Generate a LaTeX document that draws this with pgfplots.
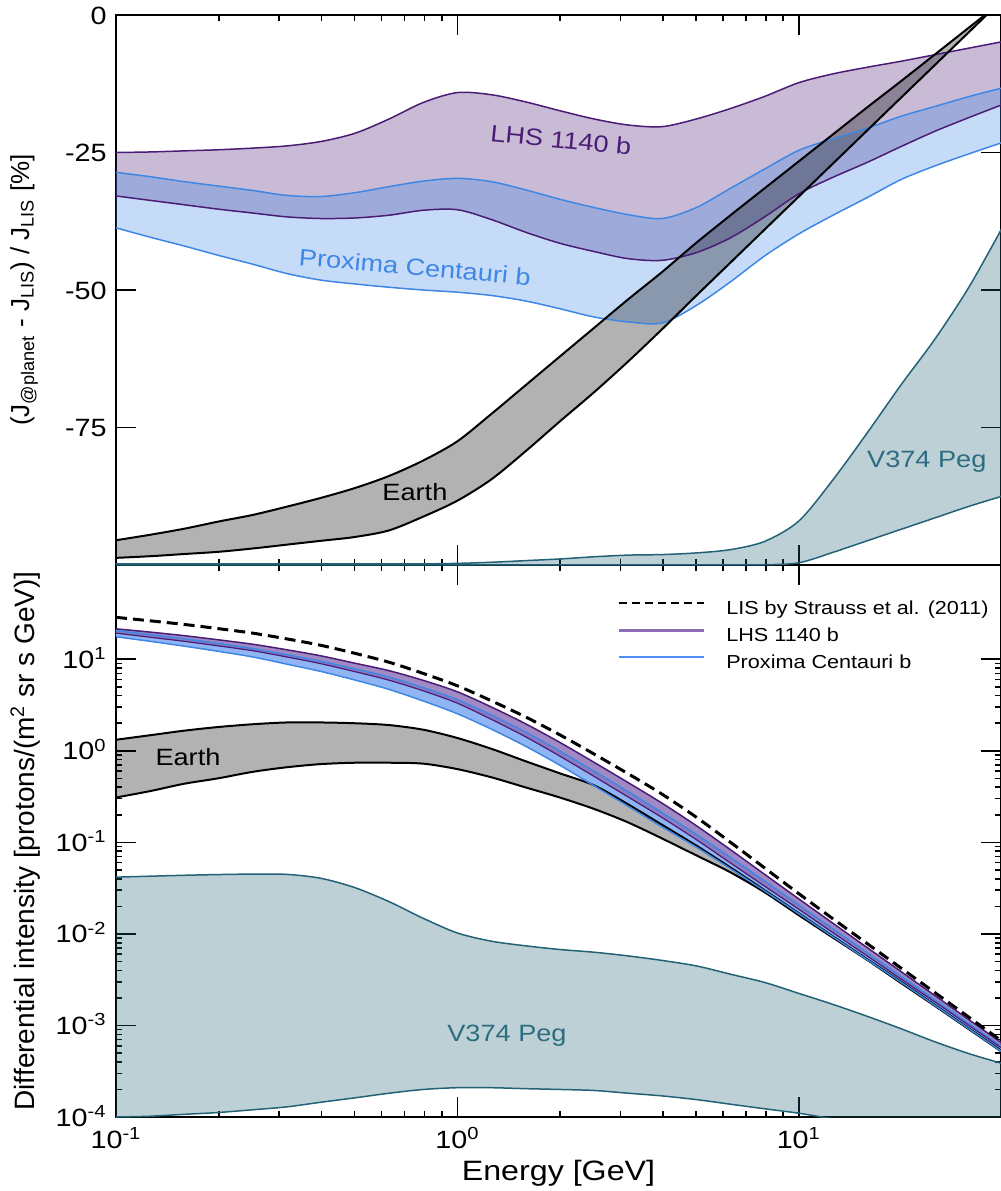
\documentclass[border=0pt]{standalone}
\usepackage{pgfplots}
\pgfplotsset{compat=1.18}
\usepackage{pgfplotstable}
\usepgfplotslibrary{fillbetween}
\usepackage{fontspec}
\setmainfont{Liberation Sans}[FakeStretch=1.15]
\newfontfamily\ylabfont{Liberation Sans}

\definecolor{lhs}{HTML}{4B1C76}
\definecolor{prox}{HTML}{3E87E4}
\definecolor{vpeg}{HTML}{236276}
\definecolor{vtext}{HTML}{2D6D80}
\definecolor{lhsband}{HTML}{8A6DB5}
\definecolor{proxband}{HTML}{8FB5F5}
\definecolor{lhsleg}{HTML}{8A6DB5}
\definecolor{proxleg}{HTML}{4E8EF5}

% relative deviation from the LIS [%]
\pgfplotstableread{
E      LHSu   LHSl   PCu    PCl    EAu    EAl    Vu     Vl
0.1    -25.0  -32.9  -28.6  -38.7  -95.5  -98.7  -99.8  -99.99
0.1259 -24.9  -33.7  -29.4  -40.4  -94.5  -98.4  -99.8  -99.99
0.1585 -24.7  -34.5  -30.3  -42.0  -93.4  -98.0  -99.8  -99.99
0.1995 -24.5  -35.3  -31.1  -43.7  -92.1  -97.6  -99.8  -99.99
0.2512 -24.2  -36.0  -31.9  -45.3  -90.9  -97.0  -99.8  -99.99
0.3162 -23.8  -36.7  -32.8  -47.0  -89.4  -96.3  -99.8  -99.99
0.3981 -23.0  -37.0  -33.0  -48.2  -87.8  -95.6  -99.8  -99.99
0.5012 -21.5  -36.9  -32.3  -48.9  -86.0  -94.9  -99.8  -99.99
0.6310 -18.9  -36.4  -31.2  -49.5  -83.8  -93.7  -99.8  -99.99
0.7943 -15.9  -35.5  -30.2  -50.0  -81.0  -91.2  -99.8  -99.99
1.0    -14.1  -35.4  -29.7  -50.4  -77.5  -88.3  -99.7  -99.99
1.259  -14.5  -37.2  -30.3  -51.0  -72.5  -84.4  -99.5  -99.99
1.585  -15.8  -39.5  -31.8  -52.0  -67.3  -79.3  -99.2  -99.99
1.995  -17.4  -41.5  -33.5  -53.4  -62.1  -73.9  -98.9  -99.99
2.512  -18.9  -43.0  -35.0  -54.9  -56.9  -68.6  -98.5  -99.99
3.162  -20.0  -44.3  -36.3  -55.8  -51.7  -63.0  -98.2  -99.99
3.981  -20.3  -44.6  -37.0  -56.0  -46.7  -57.1  -98.1  -99.99
5.012  -18.9  -43.2  -35.0  -52.8  -41.4  -51.0  -97.8  -99.99
6.310  -17.0  -40.5  -31.5  -48.5  -36.4  -45.0  -97.2  -99.99
7.943  -14.8  -36.7  -28.0  -43.8  -31.5  -39.0  -95.7  -99.95
10     -12.3  -32.5  -24.6  -39.8  -26.6  -33.0  -92.0  -99.6
12.59  -10.7  -29.5  -22.5  -36.4  -21.7  -27.0  -84.5  -97.7
15.85  -9.5   -26.8  -20.6  -33.2  -16.8  -21.0  -76.0  -95.6
19.95  -8.4   -23.9  -18.4  -29.9  -12.0  -15.0  -67.2  -93.5
25.12  -7.2   -21.1  -16.6  -27.4  -7.1   -9.0   -58.8  -91.4
31.62  -6.0   -18.6  -14.8  -25.2  -2.2   -3.0   -49.3  -89.3
39.81  -4.8   -16.2  -13.2  -23.1  2.7    3.0    -38.2  -87.4
}\reltab

% differential intensity [protons/(m^2 sr s GeV)]
\pgfplotstableread{
E      LIS      LHSu     LHSl     PCu      PCl      EAu      EAl      Vu       Vl
0.1    28.7     21.5     19.3     20.5     17.6     1.32     0.309    0.0417   1.00e-4
0.1259 26.3     19.8     17.4     18.6     15.7     1.48     0.363    0.0427   1.02e-4
0.1585 24.0     18.1     15.7     16.7     13.9     1.66     0.437    0.0437   1.07e-4
0.1995 21.6     16.3     14.0     14.9     12.2     1.82     0.501    0.0445   1.12e-4
0.2512 19.3     14.6     12.4     13.1     10.6     1.95     0.589    0.0450   1.20e-4
0.3162 16.7     12.7     10.6     11.2     8.85     2.04     0.661    0.0447   1.29e-4
0.3981 14.2     10.9     8.95     9.51     7.36     2.04     0.716    0.0405   1.45e-4
0.5012 11.6     9.05     7.32     7.85     5.93     2.00     0.741    0.0320   1.62e-4
0.6310 9.27     7.50     5.90     6.38     4.68     1.91     0.741    0.0225   1.82e-4
0.7943 7.00     5.88     4.52     4.89     3.50     1.70     0.724    0.0148   2.00e-4
1.0    5.13     4.41     3.31     3.61     2.54     1.38     0.631    0.01023  2.09e-4
1.259  3.51     3.00     2.20     2.45     1.72     1.05     0.513    0.00832  2.09e-4
1.585  2.34     1.97     1.42     1.60     1.12     0.769    0.398    0.00741  2.04e-4
1.995  1.496    1.236    0.875    0.995    0.697    0.568    0.309    0.00676  2.00e-4
2.512  0.923    0.749    0.526    0.600    0.416    0.420    0.232    0.00631  1.95e-4
3.162  0.562    0.450    0.313    0.358    0.248    0.260    0.165    0.00575  1.82e-4
3.981  0.335    0.267    0.186    0.211    0.147    0.155    0.110    0.00513  1.70e-4
5.012  0.188    0.152    0.107    0.122    0.0887   0.092    0.0720   0.00447  1.55e-4
6.310  0.100    0.0830   0.0595   0.0685   0.0515   0.053    0.0470   0.00363  1.38e-4
7.943  0.0525   0.0447   0.0332   0.0378   0.0295   0.0300   0.0285   0.00295  1.23e-4
10     0.0275   0.0241   0.0186   0.0207   0.0166   0.0168   0.0160   0.00224  1.10e-4
12.59  0.01462  0.01306  0.01031  0.01133  0.00930  0.0094   0.0091   0.00170  9.5e-5
15.85  0.00785  0.00710  0.00575  0.00623  0.00524  0.0053   0.0052   0.00126  7.9e-5
19.95  0.00422  0.00387  0.00321  0.00344  0.00296  0.0030   0.0029   0.000920 6.6e-5
25.12  0.002265 0.00210  0.00179  0.00189  0.00164  0.00166  0.00162  0.000660 5.5e-5
31.62  0.001216 0.001143 0.000990 0.001036 0.000910 0.00092  0.00090  0.000490 4.6e-5
39.81  0.000653 0.000622 0.000547 0.000567 0.000502 0.00051  0.00050  0.000380 3.8e-5
}\fluxtab

\begin{document}
\begin{tikzpicture}

% upper panel: relative difference to the LIS
\begin{axis}[at={(0,0)}, anchor=north west,
  scale only axis, width=442.5pt, height=275pt,
  xmode=log, xmin=0.1, xmax=39.1,
  ymin=-100, ymax=0,
  xtick={0.1,1,10}, xticklabels={,,},
  ytick={-75,-50,-25,0}, yticklabels={-75,-50,-25,0},
  major tick length=10pt, tick align=inside,
  axis line style={line width=0.8pt},
  every tick/.style={black, line width=0.8pt},
  tick label style={font=\fontsize{12.5}{14}\selectfont},
  yticklabel style={anchor=base east, inner sep=0pt, xshift=-4.5pt, yshift=-4.5pt},
  ylabel style={font=\ylabfont\fontsize{13}{15}\selectfont, inner sep=0pt,
    at={(axis description cs:-0.1198,0.5)}, anchor=north},
  ylabel={(J\textsubscript{@planet} - J\textsubscript{LIS}) / J\textsubscript{LIS} [\%]}]

  \addplot[lhs, line width=0.75pt, smooth, name path=lu] table[x=E, y=LHSu] {\reltab};
  \addplot[lhs, line width=0.75pt, smooth, name path=ll] table[x=E, y=LHSl] {\reltab};
  \addplot[fill=lhs, fill opacity=0.3, draw=none] fill between[of=lu and ll];

  \addplot[prox, line width=0.75pt, smooth, name path=pu] table[x=E, y=PCu] {\reltab};
  \addplot[prox, line width=0.75pt, smooth, name path=pl] table[x=E, y=PCl] {\reltab};
  \addplot[fill=prox, fill opacity=0.3, draw=none] fill between[of=pu and pl];

  \addplot[vpeg, line width=0.75pt, smooth, name path=vu] table[x=E, y=Vu] {\reltab};
  \addplot[vpeg, line width=0.75pt, smooth, name path=vl] table[x=E, y=Vl] {\reltab};
  \addplot[fill=vpeg, fill opacity=0.3, draw=none] fill between[of=vu and vl];

  \addplot[black, line width=1pt, smooth, name path=eu] table[x=E, y=EAu] {\reltab};
  \addplot[black, line width=1pt, smooth, name path=el] table[x=E, y=EAl] {\reltab};
  \addplot[fill=black, fill opacity=0.3, draw=none] fill between[of=eu and el];

  \node[text=lhs, rotate=-5.5, font=\fontsize{11.8}{13}\selectfont] at (axis cs:2.01,-22.7) {LHS 1140 b};
  \node[text=prox, rotate=-5, font=\fontsize{11.8}{13}\selectfont] at (axis cs:0.751,-45.8) {Proxima Centauri b};
  \node[text=black, font=\fontsize{11.8}{13}\selectfont] at (axis cs:0.751,-86.7) {Earth};
  \node[text=vtext, font=\fontsize{11.8}{13}\selectfont] at (axis cs:23.7,-81.3) {V374 Peg};
\end{axis}

% lower panel: differential intensity
\begin{axis}[at={(0,-275pt)}, anchor=north west,
  scale only axis, width=442.5pt, height=276pt,
  xmode=log, xmin=0.1, xmax=39.1,
  ymode=log, ymin=1e-4, ymax=107,
  xtick={0.1,1,10},
  xticklabels={10\textsuperscript{-1},10\textsuperscript{0},10\textsuperscript{1}},
  ytick={1e-4,1e-3,1e-2,1e-1,1,10},
  yticklabels={10\textsuperscript{-4},10\textsuperscript{-3},10\textsuperscript{-2},10\textsuperscript{-1},10\textsuperscript{0},10\textsuperscript{1}},
  minor tick num=0,
  major tick length=10pt, tick align=inside,
  axis line style={line width=0.8pt},
  every tick/.style={black, line width=0.8pt},
  tick label style={font=\fontsize{12.5}{14}\selectfont},
  yticklabel style={anchor=base east, inner sep=0pt, xshift=-4.5pt, yshift=-4.5pt},
  xticklabel style={anchor=base, inner sep=0pt, yshift=-15.5pt},
  xlabel={Energy [GeV]},
  xlabel style={font=\fontsize{14}{16}\selectfont, inner sep=0pt,
    at={(axis description cs:0.5,0)}, anchor=base, yshift=-31.5pt},
  ylabel style={font=\ylabfont\fontsize{14}{16}\selectfont, inner sep=0pt,
    at={(axis description cs:-0.1198,0.5)}, anchor=north},
  ylabel={Differential intensity [protons/(m\textsuperscript{2} sr s GeV)]},
  legend style={at={(axis description cs:0.566,0.945)}, anchor=north west,
    draw=none, fill=none, inner sep=0pt, row sep=0pt, column sep=10.5pt,
    font=\fontsize{9.4}{11}\selectfont,
    nodes={inner xsep=0pt, inner ysep=2.35pt, text height=6.8pt, text depth=2pt}},
  legend cell align=left,
  legend image code/.code={\draw[#1] (0pt,3pt) -- (42.5pt,3pt);}]

  % V374 Peg
  \addplot[vpeg, line width=0.75pt, smooth, name path=bvu, forget plot] table[x=E, y=Vu] {\fluxtab};
  \addplot[vpeg, line width=0.75pt, smooth, name path=bvl, forget plot] table[x=E, y=Vl] {\fluxtab};
  \addplot[fill=vpeg, fill opacity=0.3, draw=none, forget plot] fill between[of=bvu and bvl];

  % Earth
  \addplot[black, line width=1pt, smooth, name path=beu, forget plot] table[x=E, y=EAu] {\fluxtab};
  \addplot[black, line width=1pt, smooth, name path=bel, forget plot] table[x=E, y=EAl] {\fluxtab};
  \addplot[fill=black, fill opacity=0.3, draw=none, forget plot] fill between[of=beu and bel];

  % Proxima Centauri b
  \addplot[draw=none, smooth, name path=bpu, forget plot] table[x=E, y=PCu] {\fluxtab};
  \addplot[draw=none, smooth, name path=bpl, forget plot] table[x=E, y=PCl] {\fluxtab};
  \addplot[fill=proxband, draw=none, forget plot] fill between[of=bpu and bpl];
  \addplot[prox, line width=0.75pt, smooth, forget plot] table[x=E, y=PCu] {\fluxtab};
  \addplot[prox, line width=0.75pt, smooth, forget plot] table[x=E, y=PCl] {\fluxtab};

  % LHS 1140 b
  \addplot[draw=none, smooth, name path=blu, forget plot] table[x=E, y=LHSu] {\fluxtab};
  \addplot[draw=none, smooth, name path=bll, forget plot] table[x=E, y=LHSl] {\fluxtab};
  \addplot[fill=lhsband, fill opacity=0.8, draw=none, forget plot] fill between[of=blu and bll];
  \addplot[lhs, line width=0.75pt, smooth, forget plot] table[x=E, y=LHSu] {\fluxtab};
  \addplot[lhs, line width=0.6pt, smooth, forget plot] table[x=E, y=LHSl] {\fluxtab};

  % local interstellar spectrum
  \addplot[black, line width=1.5pt, smooth, dash pattern=on 5.5pt off 3pt, forget plot] table[x=E, y=LIS] {\fluxtab};

  \addlegendimage{black, line width=1pt, dash pattern=on 4pt off 2.5pt}
  \addlegendentry{LIS by Strauss et al. (2011)}
  \addlegendimage{lhsleg, line width=1.5pt}
  \addlegendentry{LHS 1140 b}
  \addlegendimage{proxleg, line width=1pt}
  \addlegendentry{Proxima Centauri b}

  \node[text=black, font=\fontsize{11.8}{13}\selectfont] at (axis cs:0.1625,0.851) {Earth};
  \node[text=vtext, font=\fontsize{11.8}{13}\selectfont] at (axis cs:1.397,7.66e-4) {V374 Peg};
\end{axis}

% page frame
\pgfresetboundingbox
\useasboundingbox (-58pt,-588pt) rectangle (442.5pt,7.5pt);
\end{tikzpicture}
\end{document}
